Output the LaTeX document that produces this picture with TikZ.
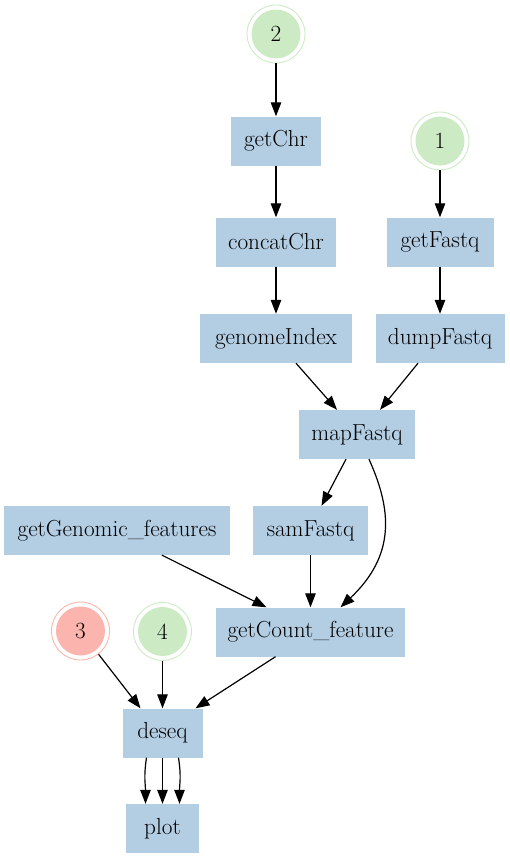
\documentclass[tikz,border=0pt]{standalone}
\usetikzlibrary{arrows.meta}
\definecolor{boxblue}{HTML}{B3CDE3}
\definecolor{pgreen}{HTML}{CCEBC5}
\definecolor{pred}{HTML}{FBB4AE}
\begin{document}
\begin{tikzpicture}[x=1pt,y=-1pt,
  every node/.style={font=\fontsize{23.2}{27}\selectfont},
  job/.style={fill=boxblue, minimum height=49pt, inner sep=0pt},
  startnode/.style={circle, draw=#1, line width=0.9pt, minimum size=58pt, inner sep=0pt,
    path picture={\fill[#1] (path picture bounding box.center) circle (24.5pt);}},
  flow/.style={line width=1.2pt, -{Triangle[length=14pt,width=10.5pt]}}]
\useasboundingbox (0,0) rectangle (509,859);
\node[startnode=pgreen] (c2) at (276,34) {2};
\node[job, minimum width=90pt] (getChr) at (276,141) {getChr};
\node[startnode=pgreen] (c1) at (440,141) {1};
\node[job, minimum width=120pt] (concatChr) at (276,242) {concatChr};
\node[job, minimum width=107pt] (getFastq) at (440,242) {getFastq};
\node[job, minimum width=152pt] (genomeIndex) at (276,338.5) {genomeIndex};
\node[job, minimum width=129pt] (dumpFastq) at (440,338.5) {dumpFastq};
\node[job, minimum width=116pt] (mapFastq) at (357,434.5) {mapFastq};
\node[job, minimum width=226pt] (getGenomic) at (117,530.5) {getGenomic\_features};
\node[job, minimum width=115pt] (samFastq) at (310.5,530.5) {samFastq};
\node[startnode=pred] (c3) at (80.5,631) {3};
\node[startnode=pgreen] (c4) at (162.5,631.5) {4};
\node[job, minimum width=189pt] (getCount) at (310.5,632) {getCount\_feature};
\node[job, minimum width=80pt] (deseq) at (162.5,733) {deseq};
\node[job, minimum width=73pt] (plot) at (162.5,828.5) {plot};

\draw[flow] (c2) -- (getChr);
\draw[flow] (getChr) -- (concatChr);
\draw[flow] (concatChr) -- (genomeIndex);
\draw[flow] (c1) -- (getFastq);
\draw[flow] (getFastq) -- (dumpFastq);
\draw[flow] ([xshift=20pt]genomeIndex.south) -- ([xshift=-20pt]mapFastq.north);
\draw[flow] ([xshift=-22pt]dumpFastq.south) -- ([xshift=23pt]mapFastq.north);
\draw[flow] ([xshift=-11pt]mapFastq.south) -- ([xshift=11pt]samFastq.north);
\draw[flow] ([xshift=12pt]mapFastq.south) .. controls +(23,51) and +(55,-52) .. ([xshift=30pt]getCount.north);
\draw[flow] (samFastq) -- (getCount);
\draw[flow] ([xshift=45pt]getGenomic.south) -- ([xshift=-44pt]getCount.north);
\draw[flow] (c3) -- ([xshift=-22pt]deseq.north);
\draw[flow] (c4) -- (deseq);
\draw[flow] ([xshift=-35pt]getCount.south) -- ([xshift=33pt]deseq.north);
\draw[flow] ([xshift=-16pt]deseq.south) .. controls +(-3,20) and +(0,-20) .. ([xshift=-17pt]plot.north);
\draw[flow] (deseq) -- (plot);
\draw[flow] ([xshift=16pt]deseq.south) .. controls +(3,20) and +(0,-20) .. ([xshift=17pt]plot.north);
\end{tikzpicture}
\end{document}
